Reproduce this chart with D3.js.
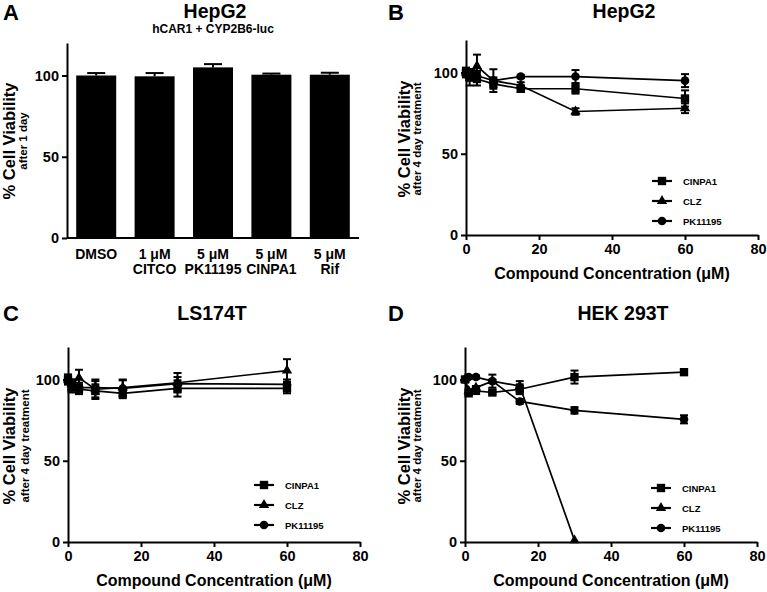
<!DOCTYPE html>
<html>
<head>
<meta charset="utf-8">
<script src="https://cdn.jsdelivr.net/npm/d3@7"></script>
<style>
  body { margin: 0; background: #fff; }
  svg text { font-family: "Liberation Sans", Arial, sans-serif; font-weight: bold; fill: #000; }
  .axis path, .axis line { stroke: #000; stroke-width: 2; }
  .axis text { font-size: 14.5px; font-family: "Liberation Sans", Arial, sans-serif; font-weight: bold; }
</style>
</head>
<body>
<div id="chart"></div>
<script>
// panel A: one day viability, bars
var barLabelTop = ["DMSO", "1 μM", "5 μM", "5 μM", "5 μM"];
var barLabelBottom = ["", "CITCO", "PK11195", "CINPA1", "Rif"];
var viability1Day = [100, 99.5, 105, 100.5, 100.5];
var viability1DayErr = [1.5, 2, 2, 0.7, 1.2];

// panels B-D: four day treatment, concentration in uM
var concentrations = [0, 1, 3, 7.5, 15, 30, 60];
var seriesNames = ["CINPA1", "CLZ", "PK11195"];
var yTicks = [0, 50, 100];
var xTicks = [0, 20, 40, 60, 80];

var hepg2Cinpa1 = [100, 97, 96, 93, 90, 90, 84];
var hepg2Cinpa1Err = [3, 5, 4, 3, 2, 3, 5];
var hepg2Clz = [100, 98, 104, 95, 92, 76, 78];
var hepg2ClzErr = [2, 3, 7, 7, 2, 2, 3];
var hepg2Pk = [100, 99, 98, 95, 97.5, 97.5, 95];
var hepg2PkErr = [2, 3, 3, 2, 1, 4, 4];

var ls174tCinpa1 = [100, 95, 94, 93, 91.5, 94.5, 94.5];
var ls174tCinpa1Err = [3, 3, 3, 4, 3, 5, 3];
var ls174tClz = [100, 97, 101, 94, 95, 98, 105.5];
var ls174tClzErr = [3, 3, 5, 6, 5, 6, 7];
var ls174tPk = [100, 97, 95, 95, 94.5, 97.5, 97];
var ls174tPkErr = [2, 3, 3, 4, 5, 4, 3];

var hek293tCinpa1 = [100, 91.5, 93, 92, 94, 101.5, 104.5];
var hek293tCinpa1Err = [1, 1, 1, 1, 3, 4, 1];
var hek293tClz = [100, 93, 95, 99, 96, 1, null];
var hek293tClzErr = [1, 1, 1, 4, 3, 0, null];
var hek293tPk = [100, 101.5, 101.5, 99, 86.5, 81, 75.5];
var hek293tPkErr = [0, 1, 1, 1, 1.5, 2, 2.5];

var symbols = [d3.symbolSquare, d3.symbolTriangle, d3.symbolCircle];
var symbolSizes = [70, 46, 58];

var plotW = 292, plotH = 195;

var svg = d3.select("#chart").append("svg")
  .attr("width", 767)
  .attr("height", 592);

function addText(x, y, txt, size, anchor) {
  return svg.append("text")
    .attr("x", x).attr("y", y)
    .attr("text-anchor", anchor || "middle")
    .style("font-size", size + "px")
    .text(txt);
}

function addYLabel(x, y, sub, subOffset) {
  svg.append("text")
    .attr("transform", "translate(" + x + "," + y + ") rotate(-90)")
    .attr("text-anchor", "middle")
    .style("font-size", "16.5px")
    .text("% Cell Viability");
  svg.append("text")
    .attr("transform", "translate(" + (x + subOffset) + "," + y + ") rotate(-90)")
    .attr("text-anchor", "middle")
    .style("font-size", "11.5px")
    .text(sub);
}

function styleAxis(g) {
  g.select(".domain").attr("stroke-width", 2);
  g.selectAll(".tick line").attr("stroke-width", 1.8);
}

// ---- panel A ----
function plotBars(left, top) {
  var g = svg.append("g").attr("transform", "translate(" + left + "," + top + ")");

  var x = d3.scaleBand().range([0, plotW])
    .domain(barLabelTop.map(function(d, i) { return i; }))
    .paddingInner(0.315).paddingOuter(0.1575);
  var y = d3.scaleLinear().range([plotH, 0]).domain([0, 120]);

  g.selectAll("rect.bar").data(viability1Day).enter().append("rect")
    .attr("class", "bar")
    .attr("x", function(d, i) { return x(i); })
    .attr("width", x.bandwidth())
    .attr("y", function(d) { return y(d); })
    .attr("height", function(d) { return plotH - y(d); })
    .attr("fill", "#000");

  // error bars (upper half only, lower part hidden by bar)
  var err = g.selectAll("g.err").data(viability1Day).enter().append("g")
    .attr("transform", function(d, i) { return "translate(" + (x(i) + x.bandwidth() / 2) + ",0)"; });
  err.append("line")
    .attr("y1", function(d) { return y(d); })
    .attr("y2", function(d, i) { return y(d + viability1DayErr[i]); })
    .attr("stroke", "#000").attr("stroke-width", 2);
  err.append("line")
    .attr("x1", -9).attr("x2", 9)
    .attr("y1", function(d, i) { return y(d + viability1DayErr[i]); })
    .attr("y2", function(d, i) { return y(d + viability1DayErr[i]); })
    .attr("stroke", "#000").attr("stroke-width", 2);

  g.append("g").attr("class", "axis")
    .call(d3.axisLeft(y).tickValues(yTicks).tickSize(5).tickSizeOuter(0).tickPadding(3))
    .call(styleAxis);

  var xa = g.append("g").attr("class", "axis")
    .attr("transform", "translate(0," + plotH + ")");
  xa.append("line").attr("x1", 0).attr("x2", plotW)
    .attr("stroke", "#000").attr("stroke-width", 2);

  var lbl = xa.selectAll("text.cat").data(barLabelTop).enter().append("text")
    .attr("class", "cat")
    .attr("text-anchor", "middle")
    .style("font-size", "14px")
    .attr("x", function(d, i) { return x(i) + x.bandwidth() / 2; });
  lbl.append("tspan").attr("y", 21).text(function(d) { return d; });
  lbl.append("tspan")
    .attr("x", function(d, i) { return x(i) + x.bandwidth() / 2; })
    .attr("y", 36)
    .text(function(d, i) { return barLabelBottom[i]; });
}

// ---- panels B-D ----
function plotLines(left, top, series, legendTop) {
  var g = svg.append("g").attr("transform", "translate(" + left + "," + top + ")");

  var x = d3.scaleLinear().range([0, plotW]).domain([0, 80]);
  var y = d3.scaleLinear().range([plotH, 0]).domain([0, 120]);

  var line = d3.line()
    .defined(function(d) { return d.v != null; })
    .x(function(d) { return x(d.c); })
    .y(function(d) { return y(d.v); });

  series.forEach(function(s, k) {
    var pts = concentrations.map(function(c, i) { return { c: c, v: s.values[i], e: s.err[i] }; })
      .filter(function(d) { return d.v != null; });

    var eb = g.append("g").selectAll("g").data(pts.filter(function(d) { return d.e > 0; }))
      .enter().append("g")
      .attr("transform", function(d) { return "translate(" + x(d.c) + ",0)"; });
    eb.append("line")
      .attr("y1", function(d) { return y(d.v - d.e); })
      .attr("y2", function(d) { return y(d.v + d.e); })
      .attr("stroke", "#000").attr("stroke-width", 2);
    [-1, 1].forEach(function(sg) {
      eb.append("line")
        .attr("x1", -4).attr("x2", 4)
        .attr("y1", function(d) { return y(d.v + sg * d.e); })
        .attr("y2", function(d) { return y(d.v + sg * d.e); })
        .attr("stroke", "#000").attr("stroke-width", 2);
    });

    g.append("path")
      .attr("d", line(pts))
      .attr("fill", "none")
      .attr("stroke", "#000")
      .attr("stroke-width", 1.7);

    g.append("g").selectAll("path").data(pts).enter().append("path")
      .attr("d", d3.symbol().type(symbols[k]).size(symbolSizes[k]))
      .attr("transform", function(d) { return "translate(" + x(d.c) + "," + y(d.v) + ")"; })
      .attr("fill", "#000");
  });

  g.append("g").attr("class", "axis")
    .call(d3.axisLeft(y).tickValues(yTicks).tickSize(5).tickSizeOuter(0).tickPadding(3))
    .call(styleAxis);

  g.append("g").attr("class", "axis")
    .attr("transform", "translate(0," + plotH + ")")
    .call(d3.axisBottom(x).tickValues(xTicks).tickSize(5).tickSizeOuter(0).tickPadding(4))
    .call(styleAxis);

  g.append("text")
    .attr("x", plotW / 2).attr("y", plotH + 44)
    .attr("text-anchor", "middle")
    .style("font-size", "16px")
    .text("Compound Concentration (μM)");

  // legend
  var lg = g.append("g").attr("transform", "translate(186," + legendTop + ")");
  var row = lg.selectAll("g").data(seriesNames).enter().append("g")
    .attr("transform", function(d, i) { return "translate(0," + (i * 20) + ")"; });
  row.append("line").attr("x1", 0).attr("x2", 20)
    .attr("stroke", "#000").attr("stroke-width", 2.2);
  row.append("path")
    .attr("d", function(d, i) { return d3.symbol().type(symbols[i]).size(symbolSizes[i])(); })
    .attr("transform", "translate(10,0)")
    .attr("fill", "#000");
  row.append("text")
    .attr("x", 31).attr("y", 3.5)
    .style("font-size", "9.5px")
    .text(function(d) { return d; });
}

function makeSeries(a, ae, b, be, c, ce) {
  return [
    { values: a, err: ae },
    { values: b, err: be },
    { values: c, err: ce }
  ];
}

// A
addText(3, 20, "A", 22, "start");
addText(215, 18, "HepG2", 19.5);
addText(213, 33, "hCAR1 + CYP2B6-luc", 12);
addYLabel(15, 141, "after 1 day", 12);
plotBars(67, 43);

// B
addText(388, 20, "B", 22, "start");
addText(624, 18, "HepG2", 19.5);
addYLabel(410, 139, "after 4 day treatment", 11);
plotLines(466, 40, makeSeries(hepg2Cinpa1, hepg2Cinpa1Err, hepg2Clz, hepg2ClzErr, hepg2Pk, hepg2PkErr), 141);

// C
addText(3, 321, "C", 22, "start");
addText(212, 320, "LS174T", 19.5);
addYLabel(15, 446, "after 4 day treatment", 14);
plotLines(68, 347, makeSeries(ls174tCinpa1, ls174tCinpa1Err, ls174tClz, ls174tClzErr, ls174tPk, ls174tPkErr), 138);

// D
addText(388, 321, "D", 22, "start");
addText(623, 320, "HEK 293T", 19.5);
addYLabel(410, 446, "after 4 day treatment", 11);
plotLines(465, 347, makeSeries(hek293tCinpa1, hek293tCinpa1Err, hek293tClz, hek293tClzErr, hek293tPk, hek293tPkErr), 141);
</script>
</body>
</html>
